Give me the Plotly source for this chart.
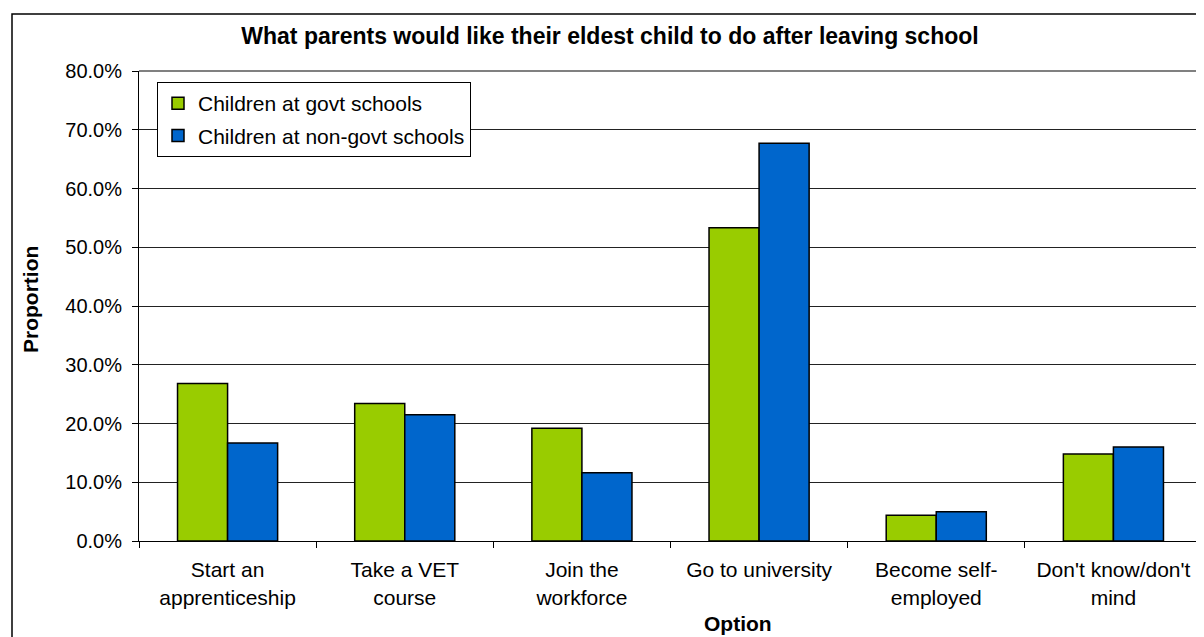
import plotly.graph_objects as go

# ---- data ----
categories = [
    "Start an<br>apprenticeship",
    "Take a VET<br>course",
    "Join the<br>workforce",
    "Go to university",
    "Become self-<br>employed",
    "Don't know/don't<br>mind",
]
govt_values = [0.268, 0.234, 0.192, 0.533, 0.044, 0.148]
nongovt_values = [0.167, 0.215, 0.116, 0.677, 0.050, 0.160]
series_names = ["Children at govt schools", "Children at non-govt schools"]
y_tick_values = [0.0, 0.1, 0.2, 0.3, 0.4, 0.5, 0.6, 0.7, 0.8]

FONT = "Arial, 'Liberation Sans', sans-serif"
OFF = 8  # the page body margin shifts the figure by 8px
W, H = 1204 - OFF, 637 - OFF
L, T = 139 - OFF, 71 - OFF
R = W - (1202 - OFF)
B = H - (541 - OFF)
PW, PH = W - L - R, H - T - B


def px_x(px):
    return (px - OFF - L) / PW


def px_y(py):
    return (H - B - (py - OFF)) / PH


fig = go.Figure()
fig.add_trace(go.Bar(
    x=categories, y=govt_values, name=series_names[0],
    marker=dict(color="#99CC00", line=dict(color="black", width=1.5)),
    legendgroup="g1",
))
fig.add_trace(go.Bar(
    x=categories, y=nongovt_values, name=series_names[1],
    marker=dict(color="#0066CC", line=dict(color="black", width=1.5)),
    legendgroup="g2",
))

fig.update_layout(
    width=W, height=H,
    margin=dict(l=L, r=R, t=T, b=B, pad=0),
    paper_bgcolor="white", plot_bgcolor="white",
    font=dict(family=FONT, size=20, color="black"),
    barmode="group", bargap=0.435, bargroupgap=0,
    title=dict(
        text="What parents would like their eldest child to do after leaving school",
        font=dict(family=FONT, size=23, color="black", weight="bold"),
        x=px_x(610), xref="paper", xanchor="center",
        y=1 - (36 - OFF) / H, yref="container", yanchor="middle",
    ),
    showlegend=True,
    legend=dict(
        x=px_x(157), y=px_y(82), xanchor="left", yanchor="top",
        bgcolor="white", bordercolor="black", borderwidth=1,
        font=dict(family=FONT, size=21, color="black"),
        traceorder="grouped", tracegroupgap=2,
        itemwidth=30,
    ),
    xaxis=dict(
        type="category",
        showline=True, linecolor="black", linewidth=1,
        ticks="outside", tickson="boundaries", ticklen=6, tickcolor="black",
        ticklabelstandoff=10,
        tickfont=dict(family=FONT, size=21, color="black"),
        showgrid=False, zeroline=False,
    ),
    yaxis=dict(
        range=[0, 0.8], tickvals=y_tick_values, tickformat=".1%",
        showline=True, linecolor="black", linewidth=1,
        ticks="outside", ticklen=6, tickcolor="black",
        ticklabelstandoff=6,
        tickfont=dict(family=FONT, size=20, color="black"),
        showgrid=True, gridcolor="#222222", gridwidth=1,
        zeroline=False,
    ),
    annotations=[
        dict(text="Option", x=px_x(738), y=px_y(623), xref="paper", yref="paper",
             xanchor="center", yanchor="middle", showarrow=False,
             font=dict(family=FONT, size=21, color="black", weight="bold")),
        dict(text="Proportion", x=px_x(30), y=px_y(300), xref="paper", yref="paper",
             xanchor="center", yanchor="middle", showarrow=False, textangle=-90,
             font=dict(family=FONT, size=21, color="black", weight="bold")),
    ],
    shapes=[
        # plot-area top and right borders (grey)
        dict(type="line", xref="paper", yref="paper", x0=0, x1=1, y0=1, y1=1,
             line=dict(color="#808080", width=2)),
        dict(type="line", xref="paper", yref="paper", x0=1, x1=1, y0=0, y1=1,
             line=dict(color="#808080", width=2)),
        # outer chart frame
        dict(type="rect", xref="paper", yref="paper",
             x0=px_x(12), x1=px_x(1215), y0=px_y(650), y1=px_y(14),
             line=dict(color="black", width=1.5), fillcolor="rgba(0,0,0,0)",
             layer="below"),
    ],
)

fig.write_html("out.html")
